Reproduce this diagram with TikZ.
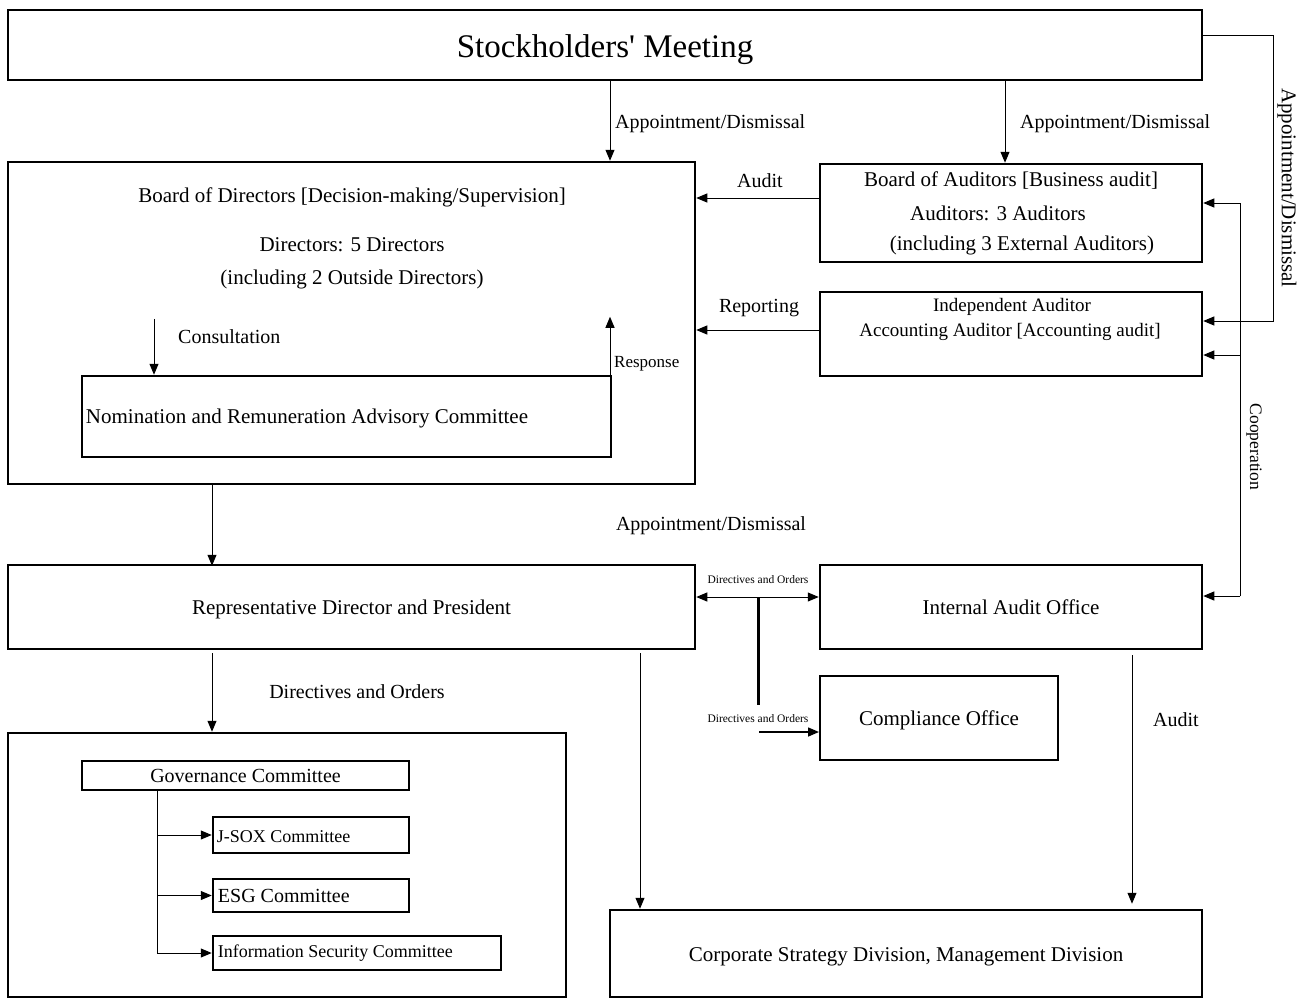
\documentclass[tikz,border=0pt]{standalone}
\usepackage{fontspec}
\setmainfont{Liberation Serif}
\usetikzlibrary{arrows.meta}

\begin{document}
\begin{tikzpicture}[x=1pt, y=-1pt,
      box/.style={
        draw, line width=2.5pt, inner sep=0pt,
        text height=20pt, text depth=5pt,
        font=\fontsize{21}{25}\selectfont
      },
      txt/.style={inner sep=0pt, font=\fontsize{21}{25}\selectfont},
      lbl/.style={inner sep=0pt, font=\fontsize{20}{24}\selectfont},
      tinylbl/.style={inner sep=0pt, font=\fontsize{11.5}{13}\selectfont},
      arr/.style={-{Triangle[length=11pt,width=9pt]}, line width=1pt}
    ]
      \useasboundingbox (0,0) rectangle (1305,998);

      \node[box, minimum width=1194, minimum height=70,
        text height=33pt, text depth=7pt,
        font=\fontsize{33}{38}\selectfont] (stock) at (605,45)
        {Stockholders\textquotesingle\ Meeting};
      \node[box, minimum width=687, minimum height=322] (bod) at (351.5,323){};
      \node[box, minimum width=529, minimum height=81] (nrac) at (346.5,416.5){};
      \node[box, minimum width=382, minimum height=98] (boa) at (1011,213){};
      \node[box, minimum width=382, minimum height=84] (ind) at (1011,334){};
      \node[box, minimum width=687, minimum height=84] (rep) at (351.5,607)
        {Representative Director and President};
      \node[box, minimum width=382, minimum height=84] (iao) at (1011,607)
        {Internal Audit Office};
      \node[box, line width=2pt, minimum width=238, minimum height=84] (comp) at (939,718)
        {Compliance Office};
      \node[box, minimum width=558, minimum height=264] (gbox) at (287,865){};
      \node[box, minimum width=327, minimum height=29,
        text height=18pt, text depth=5pt,
        font=\fontsize{20}{24}\selectfont] (gov) at (245.5,775.5)
        {Governance Committee};
      \node[box, minimum width=196, minimum height=36] (jsox) at (311,835){};
      \node[box, minimum width=196, minimum height=33] (esg) at (311,895.5){};
      \node[box, minimum width=288, minimum height=34] (isec) at (357,953){};
      \node[box, minimum width=592, minimum height=87] (corp) at (906,953.5)
        {Corporate Strategy Division, Management Division};

      \node[txt] (bodA) at (352,197){Board of Directors [Decision-making/Supervision]};
      \node[txt] (bodB) at (352,245){Directors: 5 Directors};
      \node[txt] (bodC) at (352,279){(including 2 Outside Directors)};
      \node[txt, anchor=west] (nracT) at ([xshift=5,yshift=-2]nrac.west)
        {Nomination and Remuneration Advisory Committee};
      \node[txt] (boaA) at (1011,181){Board of Auditors [Business audit]};
      \node[txt] (boaB) at (998,213){Auditors: 3 Auditors};
      \node[txt] (boaC) at (1022,245){(including 3 External Auditors)};
      \node[txt, font=\fontsize{19}{23}\selectfont] (indA) at (1012,307){Independent Auditor};
      \node[txt, font=\fontsize{19}{23}\selectfont] (indB) at (1010,332)
        {Accounting Auditor [Accounting audit]};
      \node[txt, anchor=west, font=\fontsize{18}{22}\selectfont] (jsoxT)
        at ([xshift=5,yshift=-2]jsox.west){J-SOX Committee};
      \node[txt, anchor=west, font=\fontsize{20}{24}\selectfont] (esgT)
        at ([xshift=6]esg.west){ESG Committee};
      \node[txt, anchor=west, font=\fontsize{18}{22}\selectfont] (isecT)
        at ([xshift=6]isec.west){Information Security Committee};

      \node[lbl, anchor=west] (adA) at (615,124){Appointment/Dismissal};
      \node[lbl, anchor=west] (adB) at (1020,124){Appointment/Dismissal};
      \node[lbl, rotate=-90, font=\fontsize{21}{25}\selectfont] (adC) at (1287,188)
        {Appointment/Dismissal};
      \node[lbl, rotate=-90, font=\fontsize{17.5}{21}\selectfont] (coop) at (1254,447)
        {Cooperation};
      \node[lbl] (auditA) at (760,181){Audit};
      \node[lbl] (rpt) at (759,308){Reporting};
      \node[lbl, anchor=west] (cons) at (178,337){Consultation};
      \node[lbl, anchor=west, font=\fontsize{17}{20}\selectfont] (resp) at (614,364){Response};
      \node[lbl] (adD) at (711,526){Appointment/Dismissal};
      \node[tinylbl] (doA) at (758,580){Directives and Orders};
      \node[tinylbl] (doB) at (758,719){Directives and Orders};
      \node[lbl] (doC) at (357,692){Directives and Orders};
      \node[lbl] (auditB) at (1176,720){Audit};

      \draw[arr] ([xshift=5]stock.south) -- ([xshift=258.5]bod.north);
      \draw[arr] ([xshift=400]stock.south) -- ([xshift=-6]boa.north);
      \draw[arr] ([yshift=9]stock.east) -- ++(70,0) |- ([yshift=13]ind.east);
      \draw[arr] ([yshift=15]boa.west) -- ([yshift=15]boa.west -| bod.east);
      \draw[arr] ([yshift=4]ind.west) -- ([yshift=4]ind.west -| bod.east);
      \draw[arr] ([xshift=-192.5,yshift=56]nrac.north) -- ([xshift=-192.5]nrac.north);
      \draw[arr] ([xshift=263.5]nrac.north) -- ([xshift=263.5,yshift=58]nrac.north);

      \draw[line width=1pt] ([xshift=37,yshift=10]boa.east) -- ([xshift=37,yshift=11]iao.east);
      \foreach \n/\s in {boa/10,ind/-21,iao/11} {
        \draw[arr] ([xshift=37,yshift=\s]\n.east) -- ([yshift=\s]\n.east);
      }

      \draw[arr] ([xshift=-139.5]bod.south) -- ([xshift=-139.5,yshift=-2]rep.north);
      \draw[{Triangle[length=11pt,width=9pt]}-{Triangle[length=11pt,width=9pt]}, line width=1pt]
        ([yshift=10]rep.east) -- ([yshift=10]iao.west);
      \coordinate (fork) at ([xshift=62,yshift=10]rep.east);
      \draw[line width=3pt] (fork) -- ++(0,108);
      \draw[arr, line width=1.5pt] ([xshift=-60,yshift=-14]comp.west) -- ([yshift=-14]comp.west);
      \draw[arr] ([xshift=-139.5,yshift=-3]rep.south) -- ([xshift=-75]gbox.north);
      \draw[arr] ([xshift=288.5,yshift=-3]rep.south) -- ([xshift=-266]corp.north);
      \draw[arr] ([xshift=121,yshift=-5]iao.south) -- ([xshift=226,yshift=5]corp.north);

      \coordinate (trunk) at ([xshift=-88.5]gov.south);
      \foreach \n in {jsox,esg,isec} {
        \draw[arr] (trunk) |- (\n.west);
      }
    \end{tikzpicture}
\end{document}
